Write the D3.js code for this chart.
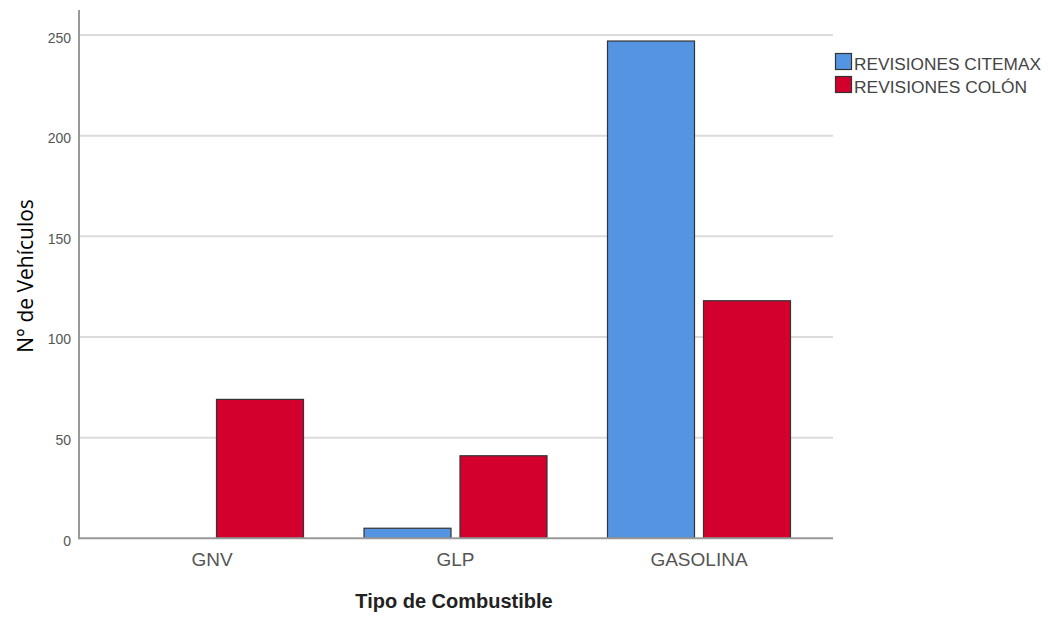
<!DOCTYPE html>
<html>
<head>
<meta charset="utf-8">
<script src="https://cdn.jsdelivr.net/npm/d3@7"></script>
<style>
  html, body { margin: 0; padding: 0; background: #fff; }
  svg { display: block; }
</style>
</head>
<body>
<svg id="chart" width="1048" height="619"></svg>
<script>
const categories = ["GNV", "GLP", "GASOLINA"];
const seriesNames = ["REVISIONES CITEMAX", "REVISIONES COLÓN"];
const citemax = [0, 5, 247];
const colon = [69, 41, 118];
const yTicks = [0, 50, 100, 150, 200, 250];
const colors = ["#5494E0", "#D3002E"];

const svg = d3.select("#chart");
const axisX = 79, plotRight = 833, plotTop = 10, baseY = 538.3;

const y = d3.scaleLinear().domain([0, 250]).range([baseY, 35]);
const x0 = d3.scaleBand().domain(categories).range([90.25, 820.75])
  .paddingInner(0.2485).paddingOuter(0.12425);
const x1 = d3.scaleBand().domain(seriesNames).range([0, x0.bandwidth()])
  .paddingInner(9 / 96);

// gridlines
svg.append("g").selectAll("line").data(yTicks.filter(d => d > 0)).join("line")
  .attr("x1", axisX).attr("x2", plotRight)
  .attr("y1", d => y(d)).attr("y2", d => y(d))
  .attr("stroke", "#dcdcdc").attr("stroke-width", 2);

// y axis via d3.axisLeft
const yAxis = svg.append("g").attr("transform", `translate(${axisX},0)`)
  .call(d3.axisLeft(y).tickValues(yTicks).tickSize(0).tickPadding(8));
yAxis.select(".domain").remove();
yAxis.selectAll("text")
  .attr("font-family", "Liberation Sans, Arial, sans-serif")
  .attr("font-size", 14).attr("fill", "#555").attr("dy", "0.5em");

// bars
const data = [];
categories.forEach((c, i) => {
  data.push({ cat: c, s: seriesNames[0], v: citemax[i], col: colors[0] });
  data.push({ cat: c, s: seriesNames[1], v: colon[i], col: colors[1] });
});
svg.append("g").selectAll("rect").data(data.filter(d => d.v > 0)).join("rect")
  .attr("x", d => x0(d.cat) + x1(d.s))
  .attr("y", d => y(d.v))
  .attr("width", x1.bandwidth())
  .attr("height", d => baseY - y(d.v))
  .attr("fill", d => d.col)
  .attr("stroke", "#333").attr("stroke-width", 1.2);

// axis lines
svg.append("line").attr("x1", axisX).attr("x2", axisX).attr("y1", plotTop).attr("y2", baseY + 1)
  .attr("stroke", "#999").attr("stroke-width", 2);
svg.append("line").attr("x1", axisX).attr("x2", plotRight).attr("y1", baseY).attr("y2", baseY)
  .attr("stroke", "#999").attr("stroke-width", 2);

// x axis labels
const xAxis = svg.append("g").attr("transform", `translate(0,${baseY})`)
  .call(d3.axisBottom(x0).tickSize(0).tickPadding(14));
xAxis.select(".domain").remove();
xAxis.selectAll("text")
  .attr("font-family", "Liberation Sans, Arial, sans-serif")
  .attr("font-size", 19).attr("fill", "#555");

// axis titles
svg.append("text").attr("x", 454).attr("y", 608).attr("text-anchor", "middle")
  .attr("font-family", "Liberation Sans, Arial, sans-serif").attr("font-weight", "bold")
  .attr("font-size", 20).attr("fill", "#222").text("Tipo de Combustible");

svg.append("text").attr("transform", "translate(33,276) rotate(-90)")
  .attr("text-anchor", "middle")
  .attr("font-family", "Open Sans, Noto Sans, sans-serif")
  .attr("font-size", 21).attr("fill", "#000").text("N° de Vehículos");

// legend
const leg = svg.append("g");
seriesNames.forEach((s, i) => {
  const yy = 53.5 + i * 23;
  leg.append("rect").attr("x", 835.5).attr("y", yy).attr("width", 16).attr("height", 16)
    .attr("fill", colors[i]).attr("stroke", "#333").attr("stroke-width", 1.2);
  leg.append("text").attr("x", 854).attr("y", yy + 16)
    .attr("font-family", "Liberation Sans, Arial, sans-serif")
    .attr("font-size", 16).attr("fill", "#444")
    .attr("textLength", s === seriesNames[0] ? 187 : 173).attr("lengthAdjust", "spacingAndGlyphs")
    .text(s);
});
</script>
</body>
</html>
